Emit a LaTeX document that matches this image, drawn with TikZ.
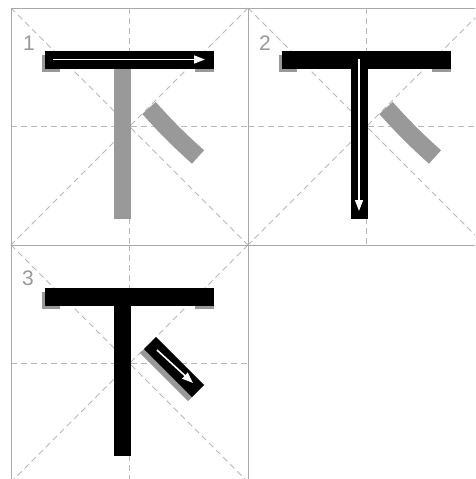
\documentclass[tikz,border=0pt]{standalone}
\usepackage{fontspec}
\setmainfont{Liberation Sans}
\usetikzlibrary{arrows.meta}

\definecolor{guidegrey}{HTML}{B8B8B8}
\definecolor{framegrey}{HTML}{A9A9A9}
\definecolor{strokegrey}{HTML}{999999}

\tikzset{
	guide/.style={guidegrey, dash pattern=on 6pt off 4pt, line width=0.8pt},
	frameline/.style={framegrey, line width=0.8pt},
	stepno/.style={text=strokegrey, font=\fontsize{21}{21}\selectfont, inner sep=0pt},
	dirarrow/.style={white, line width=1.6pt, -{Triangle[width=8pt,length=11pt]}},
}

% strokes of the character, in cell coordinates
\newcommand{\hengbar}[1]{\fill[#1] (34,43) rectangle (203,60.5);}
\newcommand{\hengshadow}{\fill[strokegrey] (31,47) rectangle (49,63.5); \fill[strokegrey] (184,59) rectangle (203,63.5);}
\newcommand{\shubar}[1]{\fill[#1] (102.5,59) rectangle (119.5,211);}
\newcommand{\dianbar}[1]{\draw[#1, line width=18pt] (138,100) to[bend right=3] (187,149);}

\begin{document}
\begin{tikzpicture}[x=1pt, y=-1pt]
	\useasboundingbox[fill=white] (0,0) rectangle (475,479);
	\clip (0,0) rectangle (475,479);
	% guide cells
	\foreach \ox/\oy in {11/8, 248/8, 11/245} {
		\begin{scope}[shift={(\ox,\oy)}]
			\draw[guide] (0,0) -- (237,237);
			\draw[guide] (237,0) -- (0,237);
			\draw[guide] (118.5,0) -- (118.5,237);
			\draw[guide] (0,118.5) -- (237,118.5);
			\draw[frameline] (0,0) rectangle (237,237);
		\end{scope}
	}
	% step 1
	\begin{scope}[shift={(11,8)}]
		\node[stepno] (n1) at (18,35) {1};
		\shubar{strokegrey}
		\dianbar{strokegrey}
		\hengshadow
		\hengbar{black}
		\coordinate (h1) at (42,51.5);
		\coordinate (h2) at (194,51.5);
		\draw[dirarrow] (h1) -- (h2);
	\end{scope}
	% step 2
	\begin{scope}[shift={(248,8)}]
		\node[stepno] (n2) at (17,35) {2};
		\dianbar{strokegrey}
		\hengshadow
		\hengbar{black}
		\shubar{black}
		\coordinate (s1) at (111,51);
		\coordinate (s2) at (111,203);
		\draw[dirarrow] (s1) -- (s2);
	\end{scope}
	% step 3
	\begin{scope}[shift={(11,245)}]
		\node[stepno] (n3) at (17,33) {3};
		\hengshadow
		\hengbar{black}
		\shubar{black}
		\draw[strokegrey, line width=17pt] (135,102) -- (183,150);
		\draw[black, line width=17pt] (139,98) -- (187,146);
		\coordinate (d1) at (146,105);
		\coordinate (d2) at (182,138);
		\draw[dirarrow] (d1) -- (d2);
	\end{scope}
\end{tikzpicture}
\end{document}
